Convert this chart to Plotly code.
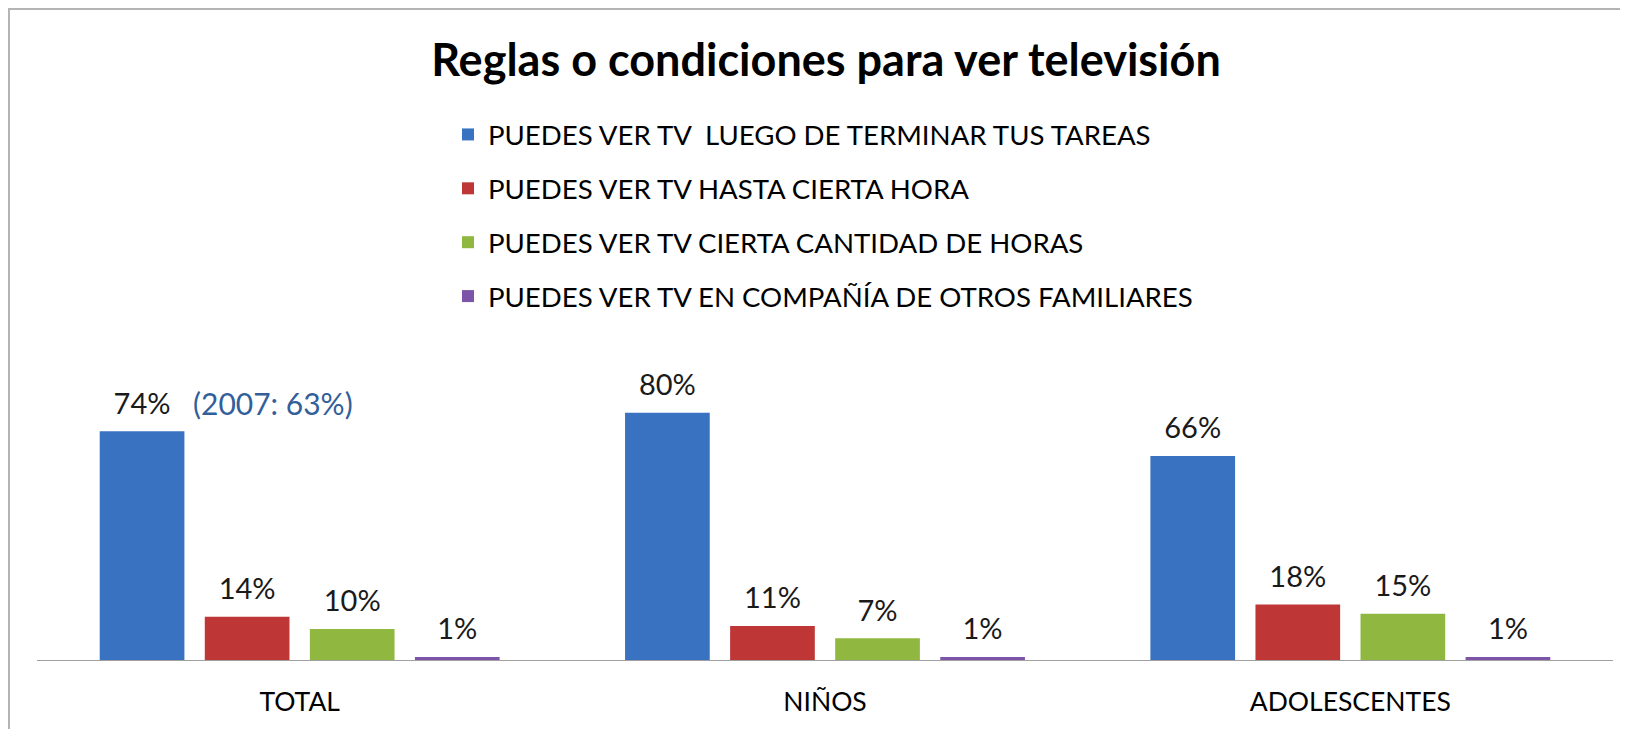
import plotly.graph_objects as go

categories = ["TOTAL", "NIÑOS", "ADOLESCENTES"]
series_names = [
    "PUEDES VER TV \u00a0LUEGO DE TERMINAR TUS TAREAS",
    "PUEDES VER TV HASTA CIERTA HORA",
    "PUEDES VER TV CIERTA CANTIDAD DE HORAS",
    "PUEDES VER TV EN COMPAÑÍA DE OTROS FAMILIARES",
]
luego_tareas = [74, 80, 66]
hasta_hora = [14, 11, 18]
cantidad_horas = [10, 7, 15]
compania = [1, 1, 1]
series_values = [luego_tareas, hasta_hora, cantidad_horas, compania]
colors = ["#3872C0", "#BF3636", "#90B840", "#7D55A8"]

FONT = "Lato"
# the page body has an 8px margin, so the figure is drawn 8px in from the top-left
W, H = 1620, 721
L, R, T, B = 29, 15, 343, 69
pw = W - L - R
ph = H - T - B
base_y = H - B  # pixel y of axis line in figure coords

fig = go.Figure()
for i, (name, vals, col) in enumerate(zip(series_names, series_values, colors)):
    fig.add_trace(go.Bar(
        x=categories, y=vals, name=name,
        marker=dict(color=col, line=dict(width=0)),
        offsetgroup=f"g{i}", alignmentgroup="a",
        legendgroup=f"lg{i}", hoverinfo="skip",
    ))
for i, vals in enumerate(series_values):
    fig.add_trace(go.Scatter(
        x=categories, y=vals, mode="markers+text",
        text=[f"{v}%" for v in vals], textposition="top center",
        textfont=dict(family=FONT, size=29, color="#1a1a1a"),
        marker=dict(size=15, opacity=0),
        offsetgroup=f"g{i}", alignmentgroup="a",
        showlegend=False, hoverinfo="skip", cliponaxis=False,
    ))

fig.add_annotation(
    xref="paper", yref="paper", x=(183 - L) / pw, y=(base_y - 395) / ph,
    xanchor="left", yanchor="middle", text="(2007: 63%)", showarrow=False,
    font=dict(family=FONT, size=30, color="#325F9B"),
)

# chart frame (left and top border)
fig.add_shape(type="line", xref="paper", yref="paper",
              x0=(1 - L) / pw, x1=(1 - L) / pw, y0=(base_y - H - 5) / ph, y1=(base_y - 0) / ph,
              line=dict(color="#B4B4B4", width=2))
fig.add_shape(type="line", xref="paper", yref="paper",
              x0=(0 - L) / pw, x1=(W + 5 - L) / pw, y0=(base_y - 1) / ph, y1=(base_y - 1) / ph,
              line=dict(color="#B4B4B4", width=2))

fig.update_layout(
    width=W, height=H, autosize=False,
    margin=dict(l=L, r=R, t=T, b=B, pad=0),
    paper_bgcolor="white", plot_bgcolor="white",
    barmode="group", bargap=0.2, bargroupgap=0.194,
    scattermode="group", scattergap=0.2,
    title=dict(text="<b>Reglas o condiciones para ver televisión</b>",
               x=818 / W, xanchor="center", y=1 - 52 / H, yanchor="middle",
               font=dict(family=FONT, size=45, color="#000000")),
    legend=dict(x=(440 - L) / pw, xanchor="left", y=(base_y - 102) / ph, yanchor="top",
                font=dict(family=FONT, size=27.6, color="#000000"),
                traceorder="grouped", tracegroupgap=15, bgcolor="rgba(0,0,0,0)",
                itemwidth=30),
    xaxis=dict(showline=True, linecolor="#A0A0A0", linewidth=1, ticks="",
               tickfont=dict(family=FONT, size=26.5, color="#000000"),
               showgrid=False, zeroline=False, ticklabelstandoff=18),
    yaxis=dict(range=[0, 100], visible=False, showgrid=False, zeroline=False),
    showlegend=True,
)

fig.write_html("out.html")
